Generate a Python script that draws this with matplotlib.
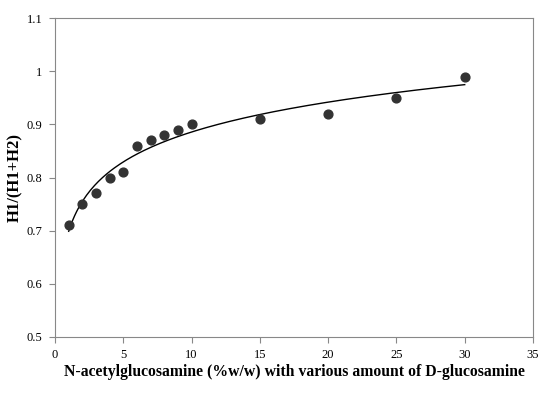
import numpy as np
import matplotlib.pyplot as plt

plt.rcParams['font.family'] = ['Liberation Serif', 'DejaVu Serif']

# measured points
conc = [1, 2, 3, 4, 5, 6, 7, 8, 9, 10, 15, 20, 25, 30]
ratio = [0.71, 0.75, 0.77, 0.80, 0.81, 0.86, 0.87, 0.88, 0.89, 0.90, 0.91, 0.92, 0.95, 0.99]

# logarithmic trend line fitted to the points
b, a = np.polyfit(np.log(conc), ratio, 1)
x_fit = np.linspace(min(conc), max(conc), 200)
y_fit = a + b * np.log(x_fit)

fig = plt.figure(figsize=(5.45, 3.95), dpi=100)
ax = fig.add_axes([0.101, 0.147, 0.877, 0.807])

ax.plot(x_fit, y_fit, color='black', lw=1.0)
ax.scatter(conc, ratio, s=40, color='#333333', zorder=3)

ax.set_xlim(0, 35)
ax.set_ylim(0.5, 1.1)
ax.set_xticks(range(0, 36, 5))
ax.set_yticks([0.5, 0.6, 0.7, 0.8, 0.9, 1.0, 1.1])
ax.set_yticklabels(['0.5', '0.6', '0.7', '0.8', '0.9', '1', '1.1'])

for s in ax.spines.values():
    s.set_color('#888888')
ax.tick_params(colors='#888888', labelcolor='black', labelsize=9, length=4,
               direction='out', pad=5)

ax.set_xlabel('N-acetylglucosamine (%w/w) with various amount of D-glucosamine',
              fontsize=11.3, fontweight='bold', labelpad=2)
ax.set_ylabel('H1/(H1+H2)', fontsize=12, fontweight='bold')
ax.yaxis.set_label_coords(-0.066, 0.5)

fig.savefig('out.png', dpi=100)
